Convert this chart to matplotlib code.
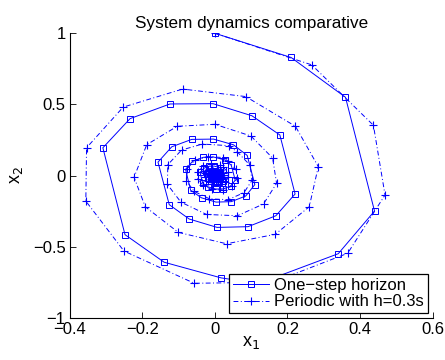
import matplotlib
matplotlib.use('Agg')
import matplotlib.pyplot as plt
from matplotlib.ticker import FixedLocator, FixedFormatter

plt.rcParams['font.family'] = ['Liberation Sans', 'DejaVu Sans']

# one-step horizon trajectory (x1, x2)
onestep_x1 = [0.0, 0.21, 0.36, 0.44, 0.34, 0.12, 0.017, -0.14, -0.248,
              -0.309, -0.234, -0.124, -0.005, 0.102, 0.179, 0.221, 0.168, 0.091, 0.006, -0.071, -0.126,
              -0.157, -0.119, -0.064, -0.004, 0.051, 0.089, 0.110, 0.085, 0.045, 0.003, -0.037, -0.067,
              -0.081, -0.062, -0.032, -0.004, 0.028, 0.045, 0.056, 0.043, 0.023, 0.002, -0.019, -0.034,
              -0.041, -0.031, -0.016, -0.002, 0.014, 0.023, 0.028, 0.022, 0.012, 0.001, -0.010, -0.017,
              -0.021, -0.016, -0.008, -0.001, 0.007, 0.012, 0.014, 0.011, 0.006, 0.000, -0.005, -0.009,
              -0.011, -0.008, -0.004, 0.000, 0.004, 0.006, 0.007, 0.006, 0.003, 0.000, -0.003, -0.005,
              -0.005, -0.004, -0.002, 0.000, 0.002, 0.003, 0.004, 0.003, 0.001, 0.000]
onestep_x2 = [1.0, 0.83, 0.55, -0.25, -0.55, -0.76, -0.72, -0.61, -0.416,
              0.195, 0.40, 0.503, 0.505, 0.42, 0.285, -0.13, -0.283, -0.36, -0.365, -0.306, -0.205,
              0.094, 0.202, 0.254, 0.256, 0.216, 0.141, -0.064, -0.144, -0.184, -0.187, -0.157, -0.104,
              0.043, 0.099, 0.128, 0.130, 0.109, 0.072, -0.033, -0.074, -0.094, -0.095, -0.080, -0.053,
              0.022, 0.050, 0.065, 0.066, 0.055, 0.037, -0.017, -0.038, -0.048, -0.048, -0.041, -0.027,
              0.011, 0.025, 0.033, 0.034, 0.028, 0.019, -0.009, -0.019, -0.024, -0.025, -0.021, -0.014,
              0.006, 0.013, 0.017, 0.017, 0.014, 0.010, -0.005, -0.010, -0.012, -0.013, -0.011, -0.007,
              0.003, 0.006, 0.008, 0.009, 0.007, 0.005, -0.002, -0.005, -0.006, -0.006]

# periodic with h=0.3s trajectory (x1, x2)
periodic_x1 = [0.0, 0.267, 0.437, 0.469, 0.366, 0.16, -0.057, -0.251, -0.356,
               -0.354, -0.253, -0.089, 0.085, 0.222, 0.285, 0.26, 0.166, 0.032, -0.101, -0.192,
               -0.223, -0.188, -0.104, 0.0, 0.099, 0.159, 0.17, 0.134, 0.062, -0.023, -0.094,
               -0.131, -0.13, -0.092, -0.035, 0.038, 0.062, 0.097, 0.102, 0.080, 0.036, -0.015,
               -0.057, -0.079, -0.077, -0.055, -0.020, 0.023, 0.037, 0.058, 0.061, 0.048, 0.022,
               -0.009, -0.034, -0.047, -0.046, -0.033, -0.012, 0.014, 0.022, 0.035, 0.037, 0.029,
               0.013, -0.005, -0.020, -0.028, -0.028, -0.020, -0.007, 0.008, 0.013, 0.021, 0.022,
               0.017, 0.008, -0.003, -0.012, -0.017, -0.017, -0.012, -0.004, 0.005, 0.008, 0.013,
               0.013, 0.010, 0.005, -0.002, -0.007, -0.010, -0.010, -0.007, -0.002, 0.003]
periodic_x2 = [1.0, 0.778, 0.353, -0.137, -0.547, -0.75, -0.758, -0.531, -0.18,
               0.195, 0.481, 0.608, 0.555, 0.346, 0.062, -0.22, -0.414, -0.48, -0.40, -0.22,
               -0.013, 0.217, 0.346, 0.36, 0.278, 0.123, -0.055, -0.2, -0.283, -0.274, -0.187,
               -0.063, 0.076, 0.179, 0.221, 0.21, 0.165, 0.072, -0.035, -0.121, -0.170, -0.164,
               -0.112, -0.037, 0.047, 0.108, 0.133, 0.126, 0.099, 0.043, -0.021, -0.073, -0.102,
               -0.098, -0.067, -0.022, 0.028, 0.065, 0.080, 0.076, 0.059, 0.026, -0.013, -0.044,
               -0.061, -0.059, -0.040, -0.013, 0.017, 0.039, 0.048, 0.046, 0.036, 0.016, -0.008,
               -0.026, -0.037, -0.035, -0.024, -0.008, 0.010, 0.023, 0.029, 0.028, 0.022, 0.010,
               -0.005, -0.016, -0.022, -0.021, -0.014, -0.005, 0.006, 0.014, 0.017, 0.017]

xticks = [-0.4, -0.2, 0, 0.2, 0.4, 0.6]
xticklabels = ['\u22120.4', '\u22120.2', '0', '0.2', '0.4', '0.6']
yticks = [-1, -0.5, 0, 0.5, 1]
yticklabels = ['\u22121', '\u22120.5', '0', '0.5', '1']

fig = plt.figure(figsize=(4.45, 3.6), dpi=100)
ax = fig.add_axes([0.157, 0.1175, 0.815, 0.79])

ax.plot(onestep_x1, onestep_x2, '-', color='b', lw=0.7, marker='s', ms=4.5,
        mfc='none', mec='b', mew=0.7, label='One\u2212step horizon')
ax.plot(periodic_x1, periodic_x2, color='b', lw=0.7, ls=(0, (5, 2.5, 1, 2.5)), marker='+', ms=6,
        mew=0.8, label='Periodic with h=0.3s')

ax.set_xlim(-0.4, 0.6)
ax.set_ylim(-1, 1)
ax.xaxis.set_major_locator(FixedLocator(xticks))
ax.xaxis.set_major_formatter(FixedFormatter(xticklabels))
ax.yaxis.set_major_locator(FixedLocator(yticks))
ax.yaxis.set_major_formatter(FixedFormatter(yticklabels))
ax.tick_params(direction='in', length=4, width=0.6, labelsize=12, pad=3)

ax.spines['top'].set_visible(False)
ax.spines['right'].set_visible(False)
ax.spines['left'].set_linewidth(0.8)
ax.spines['bottom'].set_linewidth(0.8)

ax.set_title('System dynamics comparative', fontsize=12.3, pad=4)
ax.set_xlabel('x$_1$', fontsize=13, labelpad=-2)
ax.set_ylabel('x$_2$', fontsize=13, labelpad=6)

leg = ax.legend(loc='lower right', fontsize=12, handlelength=2.2, handletextpad=0.3,
                borderpad=0.2, labelspacing=0.1, borderaxespad=0.3, fancybox=False,
                framealpha=1)
leg.get_frame().set_edgecolor('black')
leg.get_frame().set_linewidth(0.9)

fig.savefig('out.png', dpi=100)
